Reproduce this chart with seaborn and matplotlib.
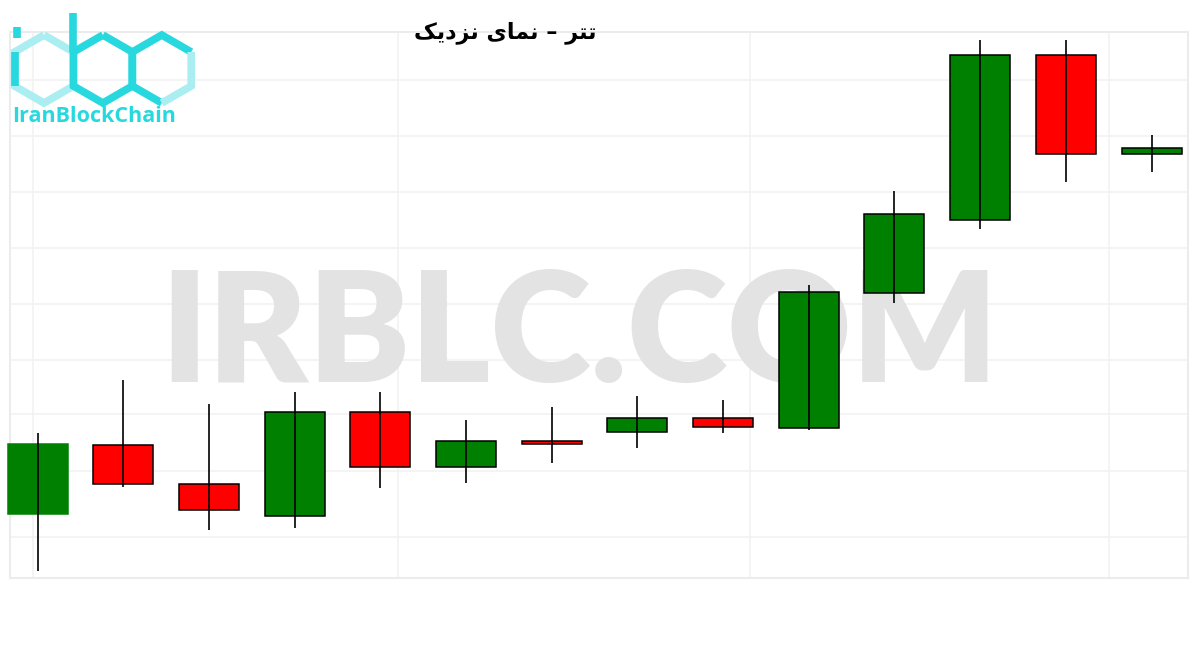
import numpy as np
import matplotlib
matplotlib.use("Agg")
import matplotlib.pyplot as plt
import seaborn as sns

# candle data (close-up view, arbitrary price units)
opens = [64, 133, 94, 62, 166, 111, 137, 146, 160, 150, 285, 358, 523, 424]
closes = [134, 94, 68, 166, 111, 137, 134, 160, 151, 286, 364, 523, 424, 430]
highs = [145, 198, 174, 186, 186, 158, 171, 182, 178, 293, 387, 538, 538, 443]
lows = [7, 91, 48, 50, 90, 95, 115, 130, 145, 148, 275, 349, 396, 406]

title = "تتر – نمای نزدیک"
watermark = "IRBLC.COM"
logo_text = "IranBlockChain"

# tiny persian shaper (matplotlib has no arabic shaping / bidi)
forms = {
    "ت": ("\uFE95", "\uFE96", "\uFE97", "\uFE98"),
    "ر": ("\uFEAD", "\uFEAE", None, None),
    "ن": ("\uFEE5", "\uFEE6", "\uFEE7", "\uFEE8"),
    "م": ("\uFEE1", "\uFEE2", "\uFEE3", "\uFEE4"),
    "ا": ("\uFE8D", "\uFE8E", None, None),
    "ی": ("\uFBFC", "\uFBFD", "\uFBFE", "\uFBFF"),
    "ز": ("\uFEAF", "\uFEB0", None, None),
    "د": ("\uFEA9", "\uFEAA", None, None),
    "ک": ("\uFB8E", "\uFB8F", "\uFB90", "\uFB91"),
}


def shape_fa(s):
    out = []
    for i, ch in enumerate(s):
        if ch not in forms:
            out.append(ch)
            continue
        prev = s[i - 1] if i > 0 else ""
        nxt = s[i + 1] if i + 1 < len(s) else ""
        join_prev = prev in forms and forms[prev][2] is not None
        join_next = nxt in forms and forms[ch][2] is not None
        f = forms[ch]
        if join_prev and join_next:
            out.append(f[3])
        elif join_prev:
            out.append(f[1])
        elif join_next:
            out.append(f[2])
        else:
            out.append(f[0])
    return "".join(out)[::-1]


sns.set_theme(style="white")
plt.rcParams["font.family"] = ["DejaVu Sans"]

fig = plt.figure(figsize=(12, 6.5), dpi=100)
fig.patch.set_facecolor("white")
ax = fig.add_axes([10 / 1200, 1 - 578 / 650, 1178 / 1200, 546 / 650])

x = np.arange(len(opens))
o = np.array(opens)
c = np.array(closes)
up = c >= o
colors = np.where(up, "#008000", "#ff0000")
edges = ["#008000"] + ["black"] * (len(o) - 1)

ax.bar(x, c - o, bottom=o, width=0.70, color=colors, edgecolor=edges,
       linewidth=1.1, zorder=3, clip_on=False)
ax.vlines(x, lows, highs, color="black", linewidth=1.2, zorder=4, clip_on=False)

ax.set_xlim(-0.321, 13.425)
ax.set_ylim(0, 546)
ax.set_yticks([41, 107, 164, 218, 274, 330, 386, 442, 498])
ax.set_xticks([-0.05, 4.21, 8.31, 12.5])
ax.grid(True, color="#f2f2f2", linewidth=1.2, zorder=0)
ax.tick_params(left=False, bottom=False, labelleft=False, labelbottom=False)
for sp in ax.spines.values():
    sp.set_color("#ececec")
    sp.set_linewidth(1.5)

# watermark behind candles
ax.text(0.483, 1 - 382 / 650, watermark, transform=fig.transFigure,
        ha="center", va="baseline", fontsize=110, fontweight="heavy",
        family="Lato", color="#e3e3e3", zorder=1)

fig.text(505 / 1200, 1 - 33 / 650, shape_fa(title), ha="center", va="center",
         fontsize=16, fontweight="bold", color="black")

# logo
ov = fig.add_axes([0, 0, 1, 1], facecolor="none")
ov.set_xlim(0, 1200)
ov.set_ylim(650, 0)
ov.axis("off")
cyan = "#27d9df"
light = "#aaeef1"
r = 34
w = np.sqrt(3) * r


def hexpts(cx, cy):
    return [(cx, cy - r), (cx + w / 2, cy - r / 2), (cx + w / 2, cy + r / 2),
            (cx, cy + r), (cx - w / 2, cy + r / 2), (cx - w / 2, cy - r / 2),
            (cx, cy - r)]


def draw_path(pts, col):
    xs, ys = zip(*pts)
    ov.plot(xs, ys, color=col, lw=5.5, solid_joinstyle="miter",
            solid_capstyle="butt")


cy = 69
h1 = hexpts(44, cy)
h2 = hexpts(44 + w, cy)
h3 = hexpts(44 + 2 * w, cy)
draw_path(h1, light)
draw_path([h1[4], h1[5]], cyan)
draw_path(h2, cyan)
draw_path(h3[3:] + h3[1:2], cyan)
draw_path(h3[1:4], light)
draw_path([(h2[5][0], 13), h2[5]], cyan)
draw_path([(h1[5][0] + 2, 27), (h1[5][0] + 2, 38)], cyan)

ov.text(12, 116, logo_text, ha="left", va="center", fontsize=15.5,
        fontweight="bold", family="Open Sans", color=cyan)

fig.savefig("out.png", dpi=100, facecolor="white")
